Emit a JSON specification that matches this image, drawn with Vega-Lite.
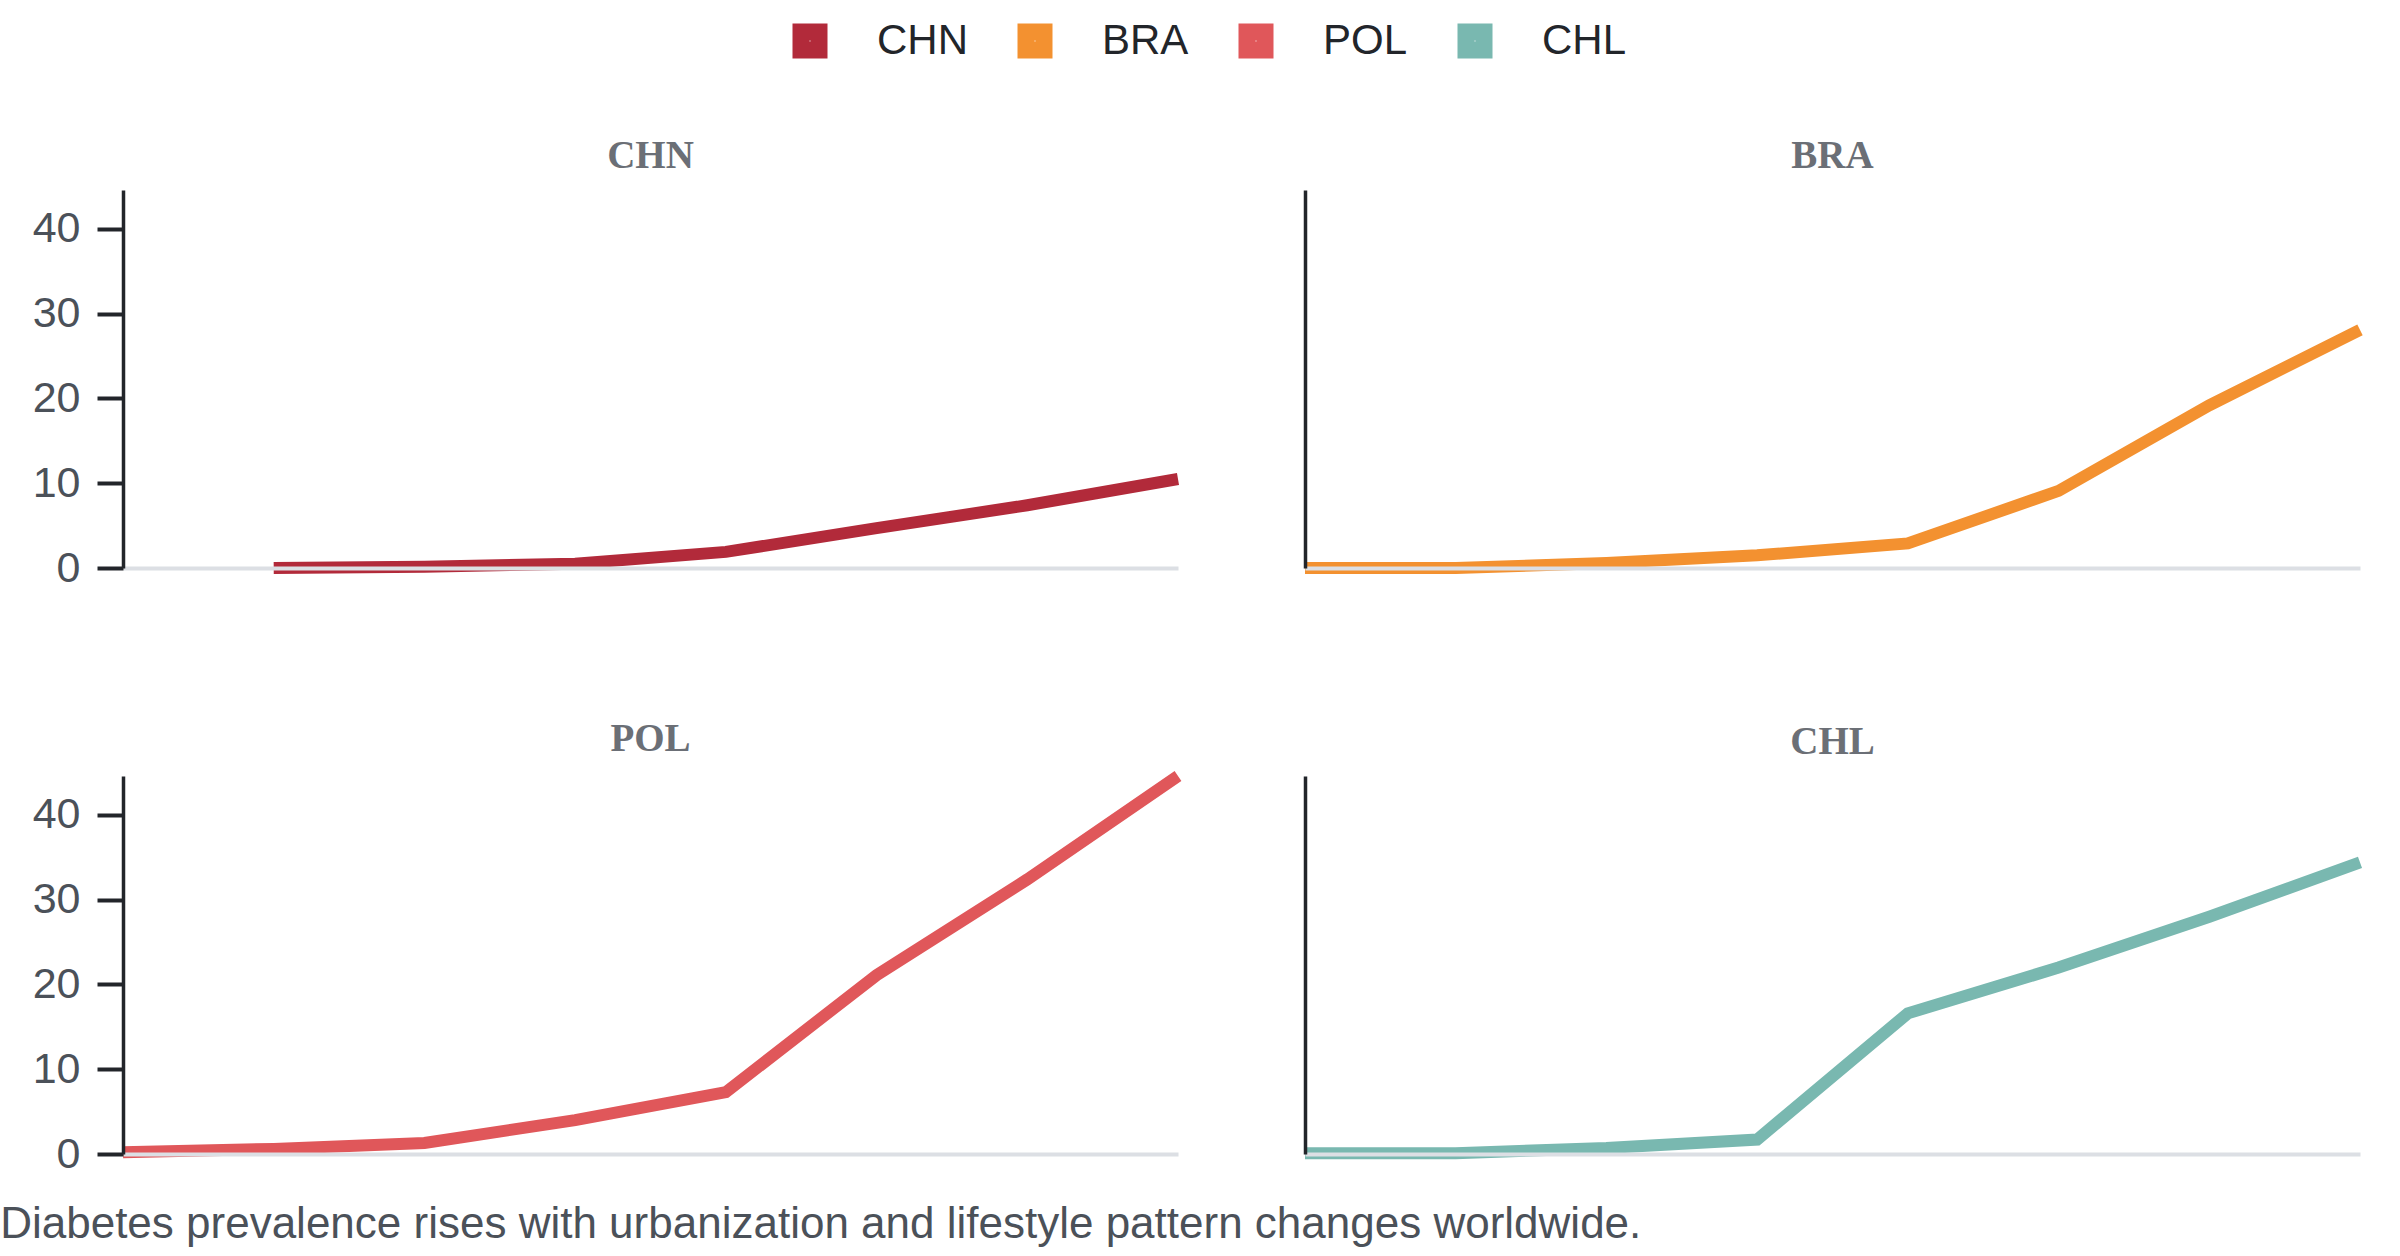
{
  "$schema": "https://vega.github.io/schema/vega-lite/v6.json",
  "background": "white",
  "padding": {"left": 0, "top": 20, "right": 26, "bottom": 10},
  "autosize": {"type": "pad"},
  "datasets": {
    "prevalence": [
      {"country": "CHN", "year": 1995, "value": 0.0},
      {"country": "CHN", "year": 2000, "value": 0.15},
      {"country": "CHN", "year": 2005, "value": 0.5},
      {"country": "CHN", "year": 2010, "value": 1.9},
      {"country": "CHN", "year": 2015, "value": 4.7},
      {"country": "CHN", "year": 2020, "value": 7.4},
      {"country": "CHN", "year": 2025, "value": 10.5},
      {"country": "BRA", "year": 1990, "value": 0.0},
      {"country": "BRA", "year": 1995, "value": 0.0},
      {"country": "BRA", "year": 2000, "value": 0.6},
      {"country": "BRA", "year": 2005, "value": 1.5},
      {"country": "BRA", "year": 2010, "value": 2.9},
      {"country": "BRA", "year": 2015, "value": 9.1},
      {"country": "BRA", "year": 2020, "value": 19.2},
      {"country": "BRA", "year": 2025, "value": 28.1},
      {"country": "POL", "year": 1990, "value": 0.2},
      {"country": "POL", "year": 1995, "value": 0.6},
      {"country": "POL", "year": 2000, "value": 1.3},
      {"country": "POL", "year": 2005, "value": 4.0},
      {"country": "POL", "year": 2010, "value": 7.3},
      {"country": "POL", "year": 2015, "value": 21.1},
      {"country": "POL", "year": 2020, "value": 32.4},
      {"country": "POL", "year": 2025, "value": 44.6},
      {"country": "CHL", "year": 1990, "value": 0.1},
      {"country": "CHL", "year": 1995, "value": 0.1},
      {"country": "CHL", "year": 2000, "value": 0.7},
      {"country": "CHL", "year": 2005, "value": 1.7},
      {"country": "CHL", "year": 2010, "value": 16.6},
      {"country": "CHL", "year": 2015, "value": 22.0},
      {"country": "CHL", "year": 2020, "value": 28.0},
      {"country": "CHL", "year": 2025, "value": 34.4}
    ]
  },
  "data": {"name": "prevalence"},
  "title": {
    "text": "Diabetes prevalence rises with urbanization and lifestyle pattern changes worldwide.",
    "orient": "bottom",
    "anchor": "start",
    "dx": -32,
    "offset": 26,
    "font": "Liberation Sans",
    "fontSize": 44,
    "fontWeight": "normal",
    "color": "#4b5159"
  },
  "columns": 2,
  "spacing": {"column": 127, "row": 208},
  "bounds": "flush",
  "concat": [
    {
      "title": "CHN",
      "width": 1055,
      "height": 378,
      "transform": [{"filter": "datum.country == 'CHN'"}],
      "mark": {"type": "line", "strokeWidth": 12, "strokeCap": "butt"},
      "encoding": {
        "x": {"field": "year", "type": "quantitative", "scale": {"nice": false, "zero": false},
              "axis": {"zindex": 1}},
        "y": {"field": "value", "type": "quantitative", "scale": {"nice": false},
              "axis": {"values": [0, 10, 20, 30, 40], "zindex": 1}},
        "color": {"field": "country", "type": "nominal",
                  "scale": {"domain": ["CHN", "BRA", "POL", "CHL"], "range": ["#b22a3a", "#f39130", "#e0575a", "#79b8b0"]}}
      }
    },
    {
      "title": "BRA",
      "width": 1055,
      "height": 378,
      "transform": [{"filter": "datum.country == 'BRA'"}],
      "mark": {"type": "line", "strokeWidth": 12, "strokeCap": "butt"},
      "encoding": {
        "x": {"field": "year", "type": "quantitative", "scale": {"nice": false, "zero": false},
              "axis": {"zindex": 1}},
        "y": {"field": "value", "type": "quantitative", "scale": {"nice": false},
              "axis": {"labels": false, "ticks": false, "zindex": 1}},
        "color": {"field": "country", "type": "nominal",
                  "scale": {"domain": ["CHN", "BRA", "POL", "CHL"], "range": ["#b22a3a", "#f39130", "#e0575a", "#79b8b0"]}}
      }
    },
    {
      "title": {"text": "POL", "dy": 21},
      "width": 1055,
      "height": 378,
      "transform": [{"filter": "datum.country == 'POL'"}],
      "mark": {"type": "line", "strokeWidth": 12, "strokeCap": "butt"},
      "encoding": {
        "x": {"field": "year", "type": "quantitative", "scale": {"nice": false, "zero": false},
              "axis": {"zindex": 1}},
        "y": {"field": "value", "type": "quantitative", "scale": {"nice": false},
              "axis": {"values": [0, 10, 20, 30, 40], "zindex": 1}},
        "color": {"field": "country", "type": "nominal",
                  "scale": {"domain": ["CHN", "BRA", "POL", "CHL"], "range": ["#b22a3a", "#f39130", "#e0575a", "#79b8b0"]}}
      }
    },
    {
      "title": "CHL",
      "width": 1055,
      "height": 378,
      "transform": [{"filter": "datum.country == 'CHL'"}],
      "mark": {"type": "line", "strokeWidth": 12, "strokeCap": "butt"},
      "encoding": {
        "x": {"field": "year", "type": "quantitative", "scale": {"nice": false, "zero": false},
              "axis": {"zindex": 1}},
        "y": {"field": "value", "type": "quantitative", "scale": {"nice": false},
              "axis": {"labels": false, "ticks": false, "zindex": 1}},
        "color": {"field": "country", "type": "nominal",
                  "scale": {"domain": ["CHN", "BRA", "POL", "CHL"], "range": ["#b22a3a", "#f39130", "#e0575a", "#79b8b0"]}}
      }
    }
  ],
  "resolve": {"scale": {"x": "shared", "y": "shared", "color": "shared"}},
  "config": {
    "view": {"stroke": null},
    "title": {
      "font": "Liberation Serif",
      "fontSize": 39,
      "fontWeight": "bold",
      "color": "#6b6f76",
      "offset": 14
    },
    "axis": {"grid": false, "title": null},
    "axisX": {
      "labels": false,
      "ticks": false,
      "domainColor": "#dcdfe4",
      "domainWidth": 4
    },
    "axisY": {
      "labelFont": "Liberation Sans",
      "labelFontSize": 43,
      "labelColor": "#4b5159",
      "labelPadding": 17,
      "tickSize": 26,
      "tickWidth": 4,
      "tickColor": "#22252a",
      "domainColor": "#22252a",
      "domainWidth": 3.5
    },
    "legend": {
      "orient": "top",
      "direction": "horizontal",
      "title": null,
      "symbolType": "square",
      "symbolSize": 324,
      "symbolStrokeWidth": 17,
      "symbolOpacity": 1,
      "labelFont": "Liberation Sans",
      "labelFontSize": 42,
      "labelColor": "#22252a",
      "labelOffset": 46,
      "columnPadding": 24,
      "offset": 53,
      "layout": {"top": {"anchor": "middle"}}
    }
  }
}
